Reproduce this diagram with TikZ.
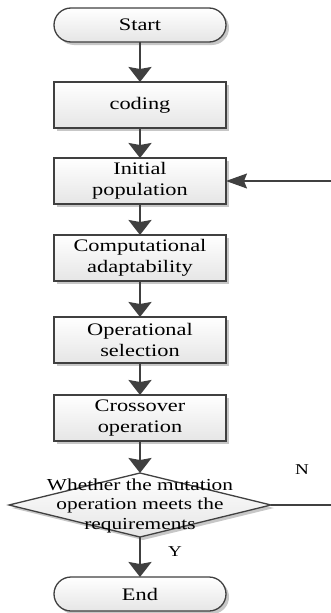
\documentclass[tikz,border=0pt]{standalone}
\usepackage{fontspec}
\setmainfont{Liberation Serif}[FakeStretch=1.27]
\usetikzlibrary{shapes.geometric,shapes.misc,arrows.meta,positioning,shadows}
\definecolor{linegray}{HTML}{404040}
\tikzset{
  boxshadow/.style = {drop shadow={shadow xshift=3pt, shadow yshift=-3pt, fill=black!22, opacity=1}},
  proc/.style = {draw=linegray, line width=1.3pt, rectangle, top color=white, bottom color=black!10, boxshadow, minimum height=46pt, minimum width=172pt, inner sep=0pt, outer sep=0pt, align=center, font=\fontsize{17.6}{20.5}\selectfont},
  term/.style = {draw=linegray, line width=1.3pt, rounded rectangle, top color=white, bottom color=black!10, boxshadow, minimum height=34pt, minimum width=172pt, inner sep=0pt, outer sep=0pt, font=\fontsize{17.6}{20.5}\selectfont},
  decision/.style = {draw=linegray, line width=1.3pt, diamond, top color=white, bottom color=black!10, boxshadow, minimum height=64pt, minimum width=262pt, inner sep=0pt, outer sep=0pt, font=\fontsize{16.8}{19.5}\selectfont},
  flow/.style = {draw=linegray, line width=2.3pt, -{Stealth[length=15pt, width=23pt, inset=2pt]}},
  back/.style = {draw=linegray, line width=1.2pt, -{Stealth[length=21pt, width=15pt, inset=3pt]}},
  tag/.style = {font=\fontsize{15}{17}\selectfont, inner sep=0pt}
}
\begin{document}
\begin{tikzpicture}[x=1pt, y=-1pt, node distance=31pt]
  \useasboundingbox (0,0) rectangle (331,613);
  \node[term] (start) at (140,25) {Start};
  \node[proc, below=40pt of start] (coding) {coding};
  \node[proc, below=30pt of coding] (init) {Initial\\population};
  \node[proc, below=of init] (fitness) {Computational\\adaptability};
  \node[proc, below=36pt of fitness] (select) {Operational\\selection};
  \node[proc, below=32pt of select] (cross) {Crossover\\operation};
  \node[decision, below=32pt of cross] (check) {\smash{\makebox[0pt]{\raisebox{-5pt}{\begin{tabular}{@{}c@{}}Whether the mutation\\operation meets the\\requirements\end{tabular}}}}};
  \node[term, below=40pt of check] (stop) {End};
  \node[tag] (nlab) at (302,470) {N};
  \node[tag] (ylab) at (175,552) {Y};
  \coordinate (edge) at (331,0);
  \draw[flow] (start) -- (coding);
  \draw[flow] (coding) -- (init);
  \draw[flow] (init) -- (fitness);
  \draw[flow] (fitness) -- (select);
  \draw[flow] (select) -- (cross);
  \draw[flow] (cross) -- (check);
  \draw[flow] (check) -- (stop);
  \draw[draw=linegray, line width=1.2pt] (check.east) -- (check.east -| edge);
  \draw[back] (init.east -| edge) -- (init.east);
\end{tikzpicture}
\end{document}
